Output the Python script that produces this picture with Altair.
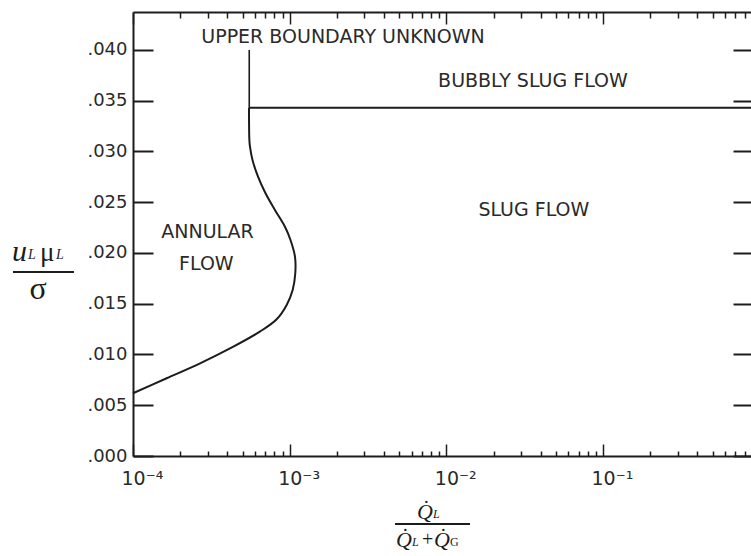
import altair as alt
import pandas as pd

# ---------------- data ----------------
# annular / slug transition curve
curve_x = [1.00e-4, 1.64e-4, 2.68e-4, 4.37e-4, 6.45e-4, 8.26e-4, 9.57e-4, 1.045e-3,
           1.086e-3, 1.081e-3, 1.012e-3, 9.33e-4, 8.05e-4, 7.01e-4, 6.28e-4, 5.79e-4,
           5.58e-4, 5.53e-4, 5.50e-4]
curve_y = [0.00618, 0.00766, 0.00913, 0.01077, 0.01225, 0.01347, 0.01488, 0.01635,
           0.01800, 0.01964, 0.02128, 0.02259, 0.02424, 0.02588, 0.02752, 0.02916,
           0.03047, 0.03113, 0.03430]

# bubbly-slug / slug boundary (horizontal)
bubbly_x = [5.50e-4, 0.88]
bubbly_y = [0.0343, 0.0343]

# "upper boundary unknown" vertical line
unknown_x = [5.52e-4, 5.52e-4]
unknown_y = [0.0343, 0.0400]

# region labels
region_text = ["UPPER BOUNDARY UNKNOWN", "BUBBLY SLUG FLOW", "SLUG FLOW", "ANNULAR", "FLOW"]
region_x = [2.19e-3, 3.57e-2, 3.62e-2, 2.99e-4, 2.94e-4]
region_y = [0.04128, 0.03695, 0.02424, 0.02207, 0.01892]

# axes
x_major = [1e-4, 1e-3, 1e-2, 1e-1]
x_major_labels = ["10⁻⁴", "10⁻³", "10⁻²", "10⁻¹"]
x_minor = [m * d for d in [1e-4, 1e-3, 1e-2, 1e-1] for m in range(2, 10) if m * d <= 0.88]
y_ticks = [0.000, 0.005, 0.010, 0.015, 0.020, 0.025, 0.030, 0.035, 0.040]

X_DOMAIN = [1e-4, 0.88]
Y_DOMAIN = [0.0, 0.04374]

INK = "#1c1c1c"
TXT = "#2a2a2a"
SANS = "DejaVu Sans"
SERIF = "Liberation Serif"

xs = alt.Scale(type="log", domain=X_DOMAIN, nice=False)
ys = alt.Scale(domain=Y_DOMAIN, nice=False, zero=False)

label_list = "[" + ",".join("'%s'" % s for s in x_major_labels) + "]"
x_label_expr = label_list + "[round(log(datum.value)/LN10) + 4]"


def tick_axis(orient, values, size, width=1.5, domain=False):
    return alt.Axis(orient=orient, values=values, labels=False, grid=False, title=None,
                    domain=domain, domainColor=INK, domainWidth=2,
                    tickColor=INK, tickWidth=width, tickSize={"expr": str(-size)})


curve_df = pd.DataFrame({"x": curve_x, "y": curve_y, "i": list(range(len(curve_x)))})
bubbly_df = pd.DataFrame({"x": bubbly_x, "y": bubbly_y})
unknown_df = pd.DataFrame({"x": unknown_x, "y": unknown_y})
region_df = pd.DataFrame({"t": region_text, "x": region_x, "y": region_y})

curve = alt.Chart(curve_df).mark_line(color=INK, strokeWidth=2, interpolate="catmull-rom").encode(
    x=alt.X("x:Q", scale=xs, axis=alt.Axis(
        orient="bottom", values=x_major, labelExpr=x_label_expr, ticks=False, grid=False,
        title=None, domain=True, domainColor=INK, domainWidth=2, labelFont=SANS,
        labelFontSize=19, labelColor=TXT, labelAlign="left", labelOffset=-12,
        labelPadding=13, labelFlush=False, labelOverlap=False, labelBaseline="top")),
    y=alt.Y("y:Q", scale=ys, axis=alt.Axis(
        orient="left", values=y_ticks, labelExpr="substring(format(datum.value, '.3f'), 1)",
        ticks=False, grid=False, title=None, domain=True, domainColor=INK, domainWidth=2,
        labelFont=SANS, labelFontSize=18, labelColor=TXT, labelPadding=6,
        labelOverlap=False, labelBaseline="middle")),
    order="i:Q",
)

bubbly = alt.Chart(bubbly_df).mark_line(color=INK, strokeWidth=2).encode(
    x=alt.X("x:Q", scale=xs, axis=tick_axis("bottom", x_major, 12)),
    y=alt.Y("y:Q", scale=ys, axis=tick_axis("left", y_ticks, 20, 2)),
)

unknown = alt.Chart(unknown_df).mark_line(color=INK, strokeWidth=1.6).encode(
    x=alt.X("x:Q", scale=xs, axis=tick_axis("bottom", x_minor, 5)),
    y=alt.Y("y:Q", scale=ys, axis=tick_axis("right", y_ticks, 18, 2)),
)

upper_lbl = alt.Chart(region_df.iloc[[0]]).mark_text(
    font=SANS, fontSize=19, color=TXT, align="center", baseline="middle").encode(
    x=alt.X("x:Q", scale=xs, axis=tick_axis("top", x_major, 12, 1.5, True)),
    y=alt.Y("y:Q", scale=ys, axis=None),
    text="t:N",
)

other_lbl = alt.Chart(region_df.iloc[1:]).mark_text(
    font=SANS, fontSize=19, color=TXT, align="center", baseline="middle").encode(
    x=alt.X("x:Q", scale=xs, axis=tick_axis("top", x_minor, 6)),
    y=alt.Y("y:Q", scale=ys, axis=None),
    text="t:N",
)


def glyph(text, x, y, size, font=SERIF, style="italic", align="left"):
    return alt.Chart(curve_df.iloc[[0]]).mark_text(
        text=text, font=font, fontSize=size, fontStyle=style, color=INK,
        align=align, baseline="alphabetic").encode(x=alt.value(x), y=alt.value(y))


def bar(x1, x2, y):
    return alt.Chart(curve_df.iloc[[0]]).mark_rule(color=INK, strokeWidth=2).encode(
        x=alt.value(x1), x2=alt.value(x2), y=alt.value(y))


# y-axis title  (u_L mu_L / sigma)
y_title = [
    glyph("u", -121, 249, 30),
    glyph("L", -105, 247, 14),
    glyph("μ", -93, 249, 27, style="normal"),
    glyph("L", -77, 247, 14),
    bar(-120, -59, 260),
    glyph("σ", -95, 287, 32, style="normal", align="center"),
]

# x-axis title  (Q_L / (Q_L + Q_G))
x_title = [
    glyph("Q̇", 284, 507, 22),
    glyph("L", 300, 506, 12),
    bar(262, 337, 512),
    glyph("Q̇", 263, 535, 22),
    glyph("L", 279, 534, 12),
    glyph("+", 289, 534, 20, style="normal"),
    glyph("Q̇", 301, 535, 22),
    glyph("G", 317, 534, 12, style="normal"),
]

chart = alt.layer(curve, bubbly, unknown, upper_lbl, other_lbl, *y_title, *x_title).resolve_axis(
    x="independent", y="independent"
).properties(
    width=618, height=444,
    padding={"left": 133, "top": 12, "right": 0, "bottom": 100},
    autosize=alt.AutoSizeParams(type="none"),
    background="white",
).configure_view(strokeWidth=0)

chart.save("out.html", embed_options={"renderer": "svg", "actions": False})
